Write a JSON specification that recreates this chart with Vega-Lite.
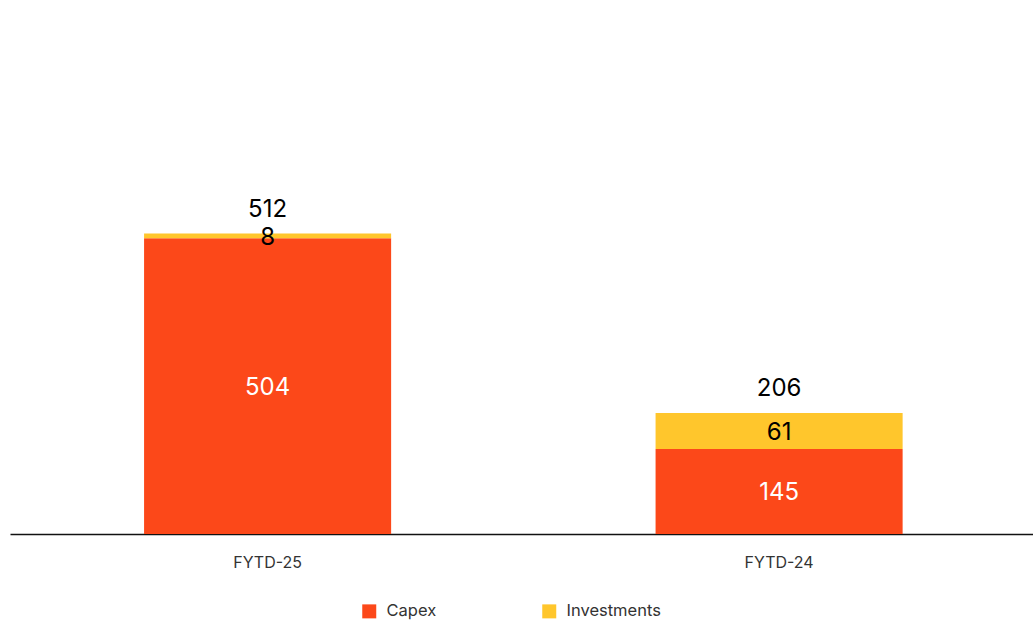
{
  "$schema": "https://vega.github.io/schema/vega-lite/v6.json",
  "width": 1023,
  "height": 534,
  "padding": {"left": 10, "top": 0, "right": 0, "bottom": 0},
  "autosize": {"type": "pad"},
  "background": "white",
  "config": {
    "view": {"stroke": null},
    "font": "Inter",
    "legend": {"orient": "none", "legendX": 351, "legendY": 603, "direction": "horizontal"}
  },
  "data": {
    "values": [
      {"period": "FYTD-25", "type": "Capex", "value": 504},
      {"period": "FYTD-25", "type": "Investments", "value": 8},
      {"period": "FYTD-24", "type": "Capex", "value": 145},
      {"period": "FYTD-24", "type": "Investments", "value": 61}
    ]
  },
  "encoding": {
    "x": {
      "field": "period",
      "type": "nominal",
      "sort": ["FYTD-25", "FYTD-24"],
      "scale": {"paddingInner": 0.517, "paddingOuter": 0.2585, "align": 0.507},
      "axis": {
        "title": null,
        "labelAngle": 0,
        "ticks": false,
        "tickSize": 0,
        "labelPadding": 20,
        "labelFontSize": 16,
        "labelColor": "#333333",
        "labelFont": "Inter",
        "domainColor": "#111111",
        "domainWidth": 1.5,
        "grid": false
      }
    }
  },
  "layer": [
    {
      "mark": {"type": "bar"},
      "encoding": {
        "y": {
          "field": "value",
          "type": "quantitative",
          "stack": "zero",
          "scale": {"domain": [0, 910], "nice": false},
          "axis": null
        },
        "order": {"field": "type", "sort": "ascending"},
        "color": {
          "field": "type",
          "type": "nominal",
          "scale": {"domain": ["Capex", "Investments"], "range": ["#FC4819", "#FFC62C"]},
          "legend": {
            "title": null,
            "symbolType": "square",
            "symbolSize": 196,
            "symbolStrokeWidth": 0,
            "labelFontSize": 16.5,
            "labelColor": "#333333",
            "labelFont": "Inter",
            "labelOffset": 9,
            "columnPadding": 104
          }
        }
      }
    },
    {
      "mark": {"type": "text", "fontSize": 24, "baseline": "middle", "align": "center", "dy": 2},
      "encoding": {
        "y": {"field": "value", "type": "quantitative", "stack": "zero", "bandPosition": 0.5},
        "detail": {"field": "type"},
        "order": {"field": "type", "sort": "ascending"},
        "text": {"field": "value", "type": "quantitative"},
        "color": {
          "condition": {"test": "datum.type === 'Capex'", "value": "white"},
          "value": "black"
        }
      }
    },
    {
      "transform": [
        {"aggregate": [{"op": "sum", "field": "value", "as": "total"}], "groupby": ["period"]}
      ],
      "mark": {"type": "text", "fontSize": 24, "baseline": "middle", "align": "center", "dy": -24, "color": "black"},
      "encoding": {
        "y": {"field": "total", "type": "quantitative"},
        "text": {"field": "total", "type": "quantitative"}
      }
    }
  ]
}
